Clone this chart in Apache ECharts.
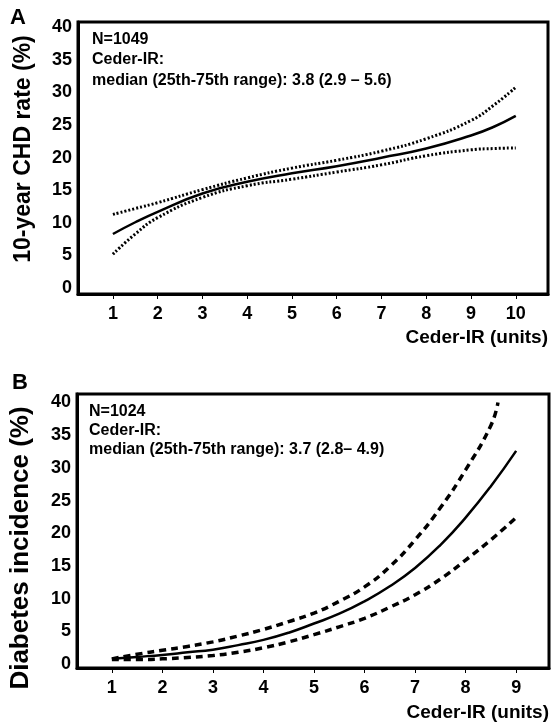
<!DOCTYPE html>
<html>
<head>
<meta charset="utf-8">
<script src="https://cdn.jsdelivr.net/npm/echarts@6/dist/echarts.min.js"></script>
<style>html,body{margin:0;padding:0;background:#fff;}#c{width:553px;height:724px;}</style>
</head>
<body>
<div id="c"></div>
<script>
// Panel A: 10-year CHD rate vs Ceder-IR
const xA = [1, 1.5, 2, 3, 4, 5, 6, 7, 8, 9, 9.5, 10];
const chdFit   = [8.3, 10.1, 11.7, 14.5, 16.3, 17.6, 18.7, 20.0, 21.4, 23.4, 24.7, 26.4];
const chdUpper = [11.3, 12.2, 13.1, 15.1, 16.9, 18.4, 19.6, 21.0, 22.9, 25.7, 28.0, 30.8];
const chdLower = [5.2, 8.3, 10.8, 13.9, 15.7, 16.7, 17.8, 18.9, 20.3, 21.2, 21.4, 21.5];
const ticksA = [1, 2, 3, 4, 5, 6, 7, 8, 9, 10];

// Panel B: Diabetes incidence vs Ceder-IR
const xB = [1, 1.5, 2, 2.5, 3, 3.5, 4, 4.5, 5, 5.5, 6, 6.5, 7, 7.5, 8, 8.5, 9];
const diabFit   = [0.8, 1.1, 1.4, 1.8, 2.2, 2.9, 3.7, 4.8, 6.2, 7.7, 9.6, 11.9, 14.7, 18.2, 22.4, 27.2, 32.6];
const diabLower = [0.7, 0.7, 0.8, 1.0, 1.3, 1.8, 2.5, 3.4, 4.5, 5.7, 7.0, 8.7, 10.6, 13.0, 15.9, 19.0, 22.4];
const xBUpper   = [1, 1.5, 2, 2.5, 3, 3.5, 4, 4.5, 5, 5.5, 6, 6.5, 7, 7.5, 8, 8.5, 8.64];
const diabUpper = [0.8, 1.5, 2.1, 2.7, 3.4, 4.3, 5.3, 6.5, 7.8, 9.6, 11.8, 14.9, 19.0, 23.9, 29.7, 36.5, 40.0];
const ticksB = [1, 2, 3, 4, 5, 6, 7, 8, 9];
const ticksY = [0, 5, 10, 15, 20, 25, 30, 35, 40];

const pairs = (xs, ys) => xs.map((x, i) => [x, ys[i]]);
const FONT = '"Liberation Sans", Arial, sans-serif';
const txt = {fontFamily: FONT, fontWeight: 'bold', color: '#000'};

function xAxisCfg(gridIndex, min, max, ticks, padTop) {
  return {
    type: 'value', gridIndex, min, max,
    name: 'Ceder-IR (units)', nameLocation: 'end', nameGap: 0,
    nameTextStyle: Object.assign({}, txt, {fontSize: 19, align: 'right', verticalAlign: 'top', padding: [padTop, 0, 0, 0]}),
    axisLine: {show: true, onZero: false, lineStyle: {color: '#000', width: 3}},
    axisTick: {show: true, customValues: ticks, length: 5, lineStyle: {color: '#000', width: 1}},
    axisLabel: Object.assign({}, txt, {fontSize: 18, margin: 11, customValues: ticks}),
    splitLine: {show: false}
  };
}
function yAxisCfg(gridIndex, min, max, name, size, pad) {
  return {
    type: 'value', gridIndex, min, max,
    name, nameLocation: 'middle', nameGap: 43, nameRotate: 90,
    nameTextStyle: Object.assign({}, txt, {fontSize: size, padding: pad}),
    axisLine: {show: true, onZero: false, lineStyle: {color: '#000', width: 3}},
    axisTick: {show: false},
    axisLabel: Object.assign({}, txt, {fontSize: 18, margin: 6, customValues: ticksY}),
    splitLine: {show: false}
  };
}
function line(xi, yi, data, type, width) {
  return {
    type: 'line', xAxisIndex: xi, yAxisIndex: yi, data, smooth: true,
    showSymbol: false, symbol: 'none', silent: true,
    lineStyle: {color: '#000', width, type}
  };
}

const chart = echarts.init(document.getElementById('c'), null, {renderer: 'canvas'});
chart.setOption({
  backgroundColor: '#fff',
  animation: false,
  grid: [
    {left: 78, top: 22, width: 470, height: 272, show: true, borderColor: '#000', borderWidth: 3, outerBoundsMode: 'none', containLabel: false},
    {left: 77, top: 394, width: 472, height: 274, show: true, borderColor: '#000', borderWidth: 3, outerBoundsMode: 'none', containLabel: false}
  ],
  xAxis: [xAxisCfg(0, 0.22, 10.72, ticksA, 34), xAxisCfg(1, 0.31, 9.65, ticksB, 35)],
  yAxis: [
    yAxisCfg(0, -0.9, 40.8, '10-year CHD rate (%)', 23, [0, 0, 0, 18]),
    yAxisCfg(1, -0.6, 41.3, 'Diabetes incidence (%)', 26, [0, 34, 0, 0])
  ],
  series: [
    line(0, 0, pairs(xA, chdUpper), [2, 2], 3),
    line(0, 0, pairs(xA, chdLower), [2, 2], 3),
    line(0, 0, pairs(xA, chdFit), 'solid', 2.5),
    line(1, 1, pairs(xBUpper, diabUpper), [7, 5], 3.5),
    line(1, 1, pairs(xB, diabLower), [7, 5], 3.5),
    line(1, 1, pairs(xB, diabFit), 'solid', 2.5)
  ],
  graphic: [
    {type: 'text', left: 10, top: 7, style: Object.assign({}, txt, {text: 'A', fontSize: 22, fill: '#000'})},
    {type: 'text', left: 12, top: 372, style: Object.assign({}, txt, {text: 'B', fontSize: 22, fill: '#000'})},
    {type: 'text', left: 92, top: 29, style: Object.assign({}, txt, {
      text: 'N=1049\nCeder-IR:\nmedian (25th-75th range): 3.8 (2.9 \u2013 5.6)', fontSize: 16, lineHeight: 20.5, fill: '#000'})},
    {type: 'text', left: 89, top: 402, style: Object.assign({}, txt, {
      text: 'N=1024\nCeder-IR:\nmedian (25th-75th range): 3.7 (2.8\u2013 4.9)', fontSize: 16, lineHeight: 19, fill: '#000'})}
  ]
});
</script>
</body>
</html>
